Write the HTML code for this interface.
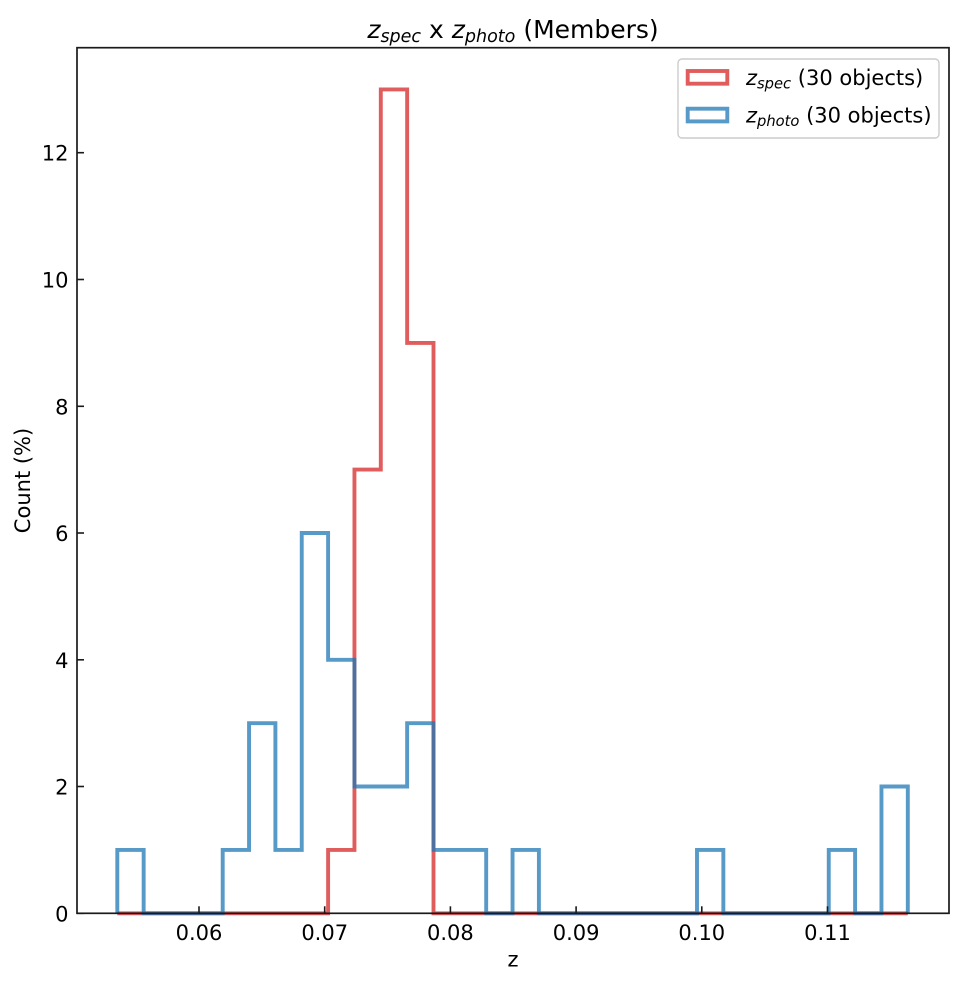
<!DOCTYPE html>
<html>
<head>
<meta charset="utf-8">
<style>
  html, body { margin: 0; padding: 0; background: #ffffff; }
  svg { display: block; }
  text { font-family: "DejaVu Sans", "Liberation Sans", sans-serif; fill: #000; }
</style>
</head>
<body>
<svg width="963" height="985" viewBox="0 0 963 985" xmlns="http://www.w3.org/2000/svg">
  <rect x="0" y="0" width="963" height="985" fill="#ffffff"/>

  <!-- Title -->
  <text x="513" y="38" text-anchor="middle" font-size="25"><tspan font-style="italic">z</tspan><tspan font-style="italic" font-size="17.5" dy="4">spec</tspan><tspan dy="-4"> x </tspan><tspan font-style="italic">z</tspan><tspan font-style="italic" font-size="17.5" dy="4">photo</tspan><tspan dy="-4"> (Members)</tspan></text>

  <!-- Histograms -->
  <path d="M117.3,913.3 H328.1 V849.9 H354.45 V469.6 H380.8 V89.4 H407.15 V342.9 H433.5 V913.3 H907.8"
        fill="none" stroke="#d62728" stroke-opacity="0.75" stroke-width="3.9" stroke-linejoin="miter" stroke-linecap="butt"/>
  <path d="M117.3,913.3 V849.9 H143.65 V913.3 H222.7 V849.9 H249.05 V723.2 H275.4 V849.9 H301.75 V533.0 H328.1 V659.8 H354.45 V786.5 H407.15 V723.2 H433.5 V849.9 H486.2 V913.3 H512.55 V849.9 H538.9 V913.3 H697.0 V849.9 H723.35 V913.3 H828.75 V849.9 H855.1 V913.3 H881.45 V786.5 H907.8 V913.3"
        fill="none" stroke="#1f77b4" stroke-opacity="0.75" stroke-width="3.9" stroke-linejoin="miter" stroke-linecap="butt"/>

  <!-- Spines -->
  <rect x="77" y="47.7" width="872" height="865.6" fill="none" stroke="#1a1a1a" stroke-width="1.7"/>

  <!-- Y ticks -->
  <g stroke="#1a1a1a" stroke-width="1.6">
    <line x1="77" y1="913.3" x2="84" y2="913.3"/>
    <line x1="77" y1="786.5" x2="84" y2="786.5"/>
    <line x1="77" y1="659.8" x2="84" y2="659.8"/>
    <line x1="77" y1="533.0" x2="84" y2="533.0"/>
    <line x1="77" y1="406.3" x2="84" y2="406.3"/>
    <line x1="77" y1="279.5" x2="84" y2="279.5"/>
    <line x1="77" y1="152.7" x2="84" y2="152.7"/>
  </g>
  <g font-size="21" text-anchor="end">
    <text x="68.5" y="921.3">0</text>
    <text x="68.5" y="794.5">2</text>
    <text x="68.5" y="667.8">4</text>
    <text x="68.5" y="541.0">6</text>
    <text x="68.5" y="414.3">8</text>
    <text x="68.5" y="287.5">10</text>
    <text x="68.5" y="160.7">12</text>
  </g>

  <!-- X ticks -->
  <g stroke="#1a1a1a" stroke-width="1.6">
    <line x1="199" y1="913.3" x2="199" y2="906.3"/>
    <line x1="324.7" y1="913.3" x2="324.7" y2="906.3"/>
    <line x1="450.4" y1="913.3" x2="450.4" y2="906.3"/>
    <line x1="576.1" y1="913.3" x2="576.1" y2="906.3"/>
    <line x1="701.8" y1="913.3" x2="701.8" y2="906.3"/>
    <line x1="827.5" y1="913.3" x2="827.5" y2="906.3"/>
  </g>
  <g font-size="21" text-anchor="middle">
    <text x="199" y="940">0.06</text>
    <text x="324.7" y="940">0.07</text>
    <text x="450.4" y="940">0.08</text>
    <text x="576.1" y="940">0.09</text>
    <text x="701.8" y="940">0.10</text>
    <text x="827.5" y="940">0.11</text>
  </g>

  <!-- Axis labels -->
  <text x="513" y="966.5" text-anchor="middle" font-size="21">z</text>
  <text transform="translate(30,480.5) rotate(-90)" x="0" y="0" text-anchor="middle" font-size="21">Count (%)</text>

  <!-- Legend -->
  <rect x="678" y="59" width="261" height="79" rx="4" ry="4" fill="#ffffff" fill-opacity="0.8" stroke="#cccccc" stroke-width="1.4"/>
  <rect x="687.7" y="71" width="39.6" height="12.7" fill="none" stroke="#d62728" stroke-opacity="0.75" stroke-width="3.9"/>
  <rect x="687.7" y="108.7" width="39.6" height="12.7" fill="none" stroke="#1f77b4" stroke-opacity="0.75" stroke-width="3.9"/>
  <text x="746" y="85" font-size="21"><tspan font-style="italic">z</tspan><tspan font-style="italic" font-size="14.7" dy="3.5">spec</tspan><tspan dy="-3.5"> (30 objects)</tspan></text>
  <text x="746" y="122.5" font-size="21"><tspan font-style="italic">z</tspan><tspan font-style="italic" font-size="14.7" dy="3.5">photo</tspan><tspan dy="-3.5"> (30 objects)</tspan></text>
</svg>
</body>
</html>
